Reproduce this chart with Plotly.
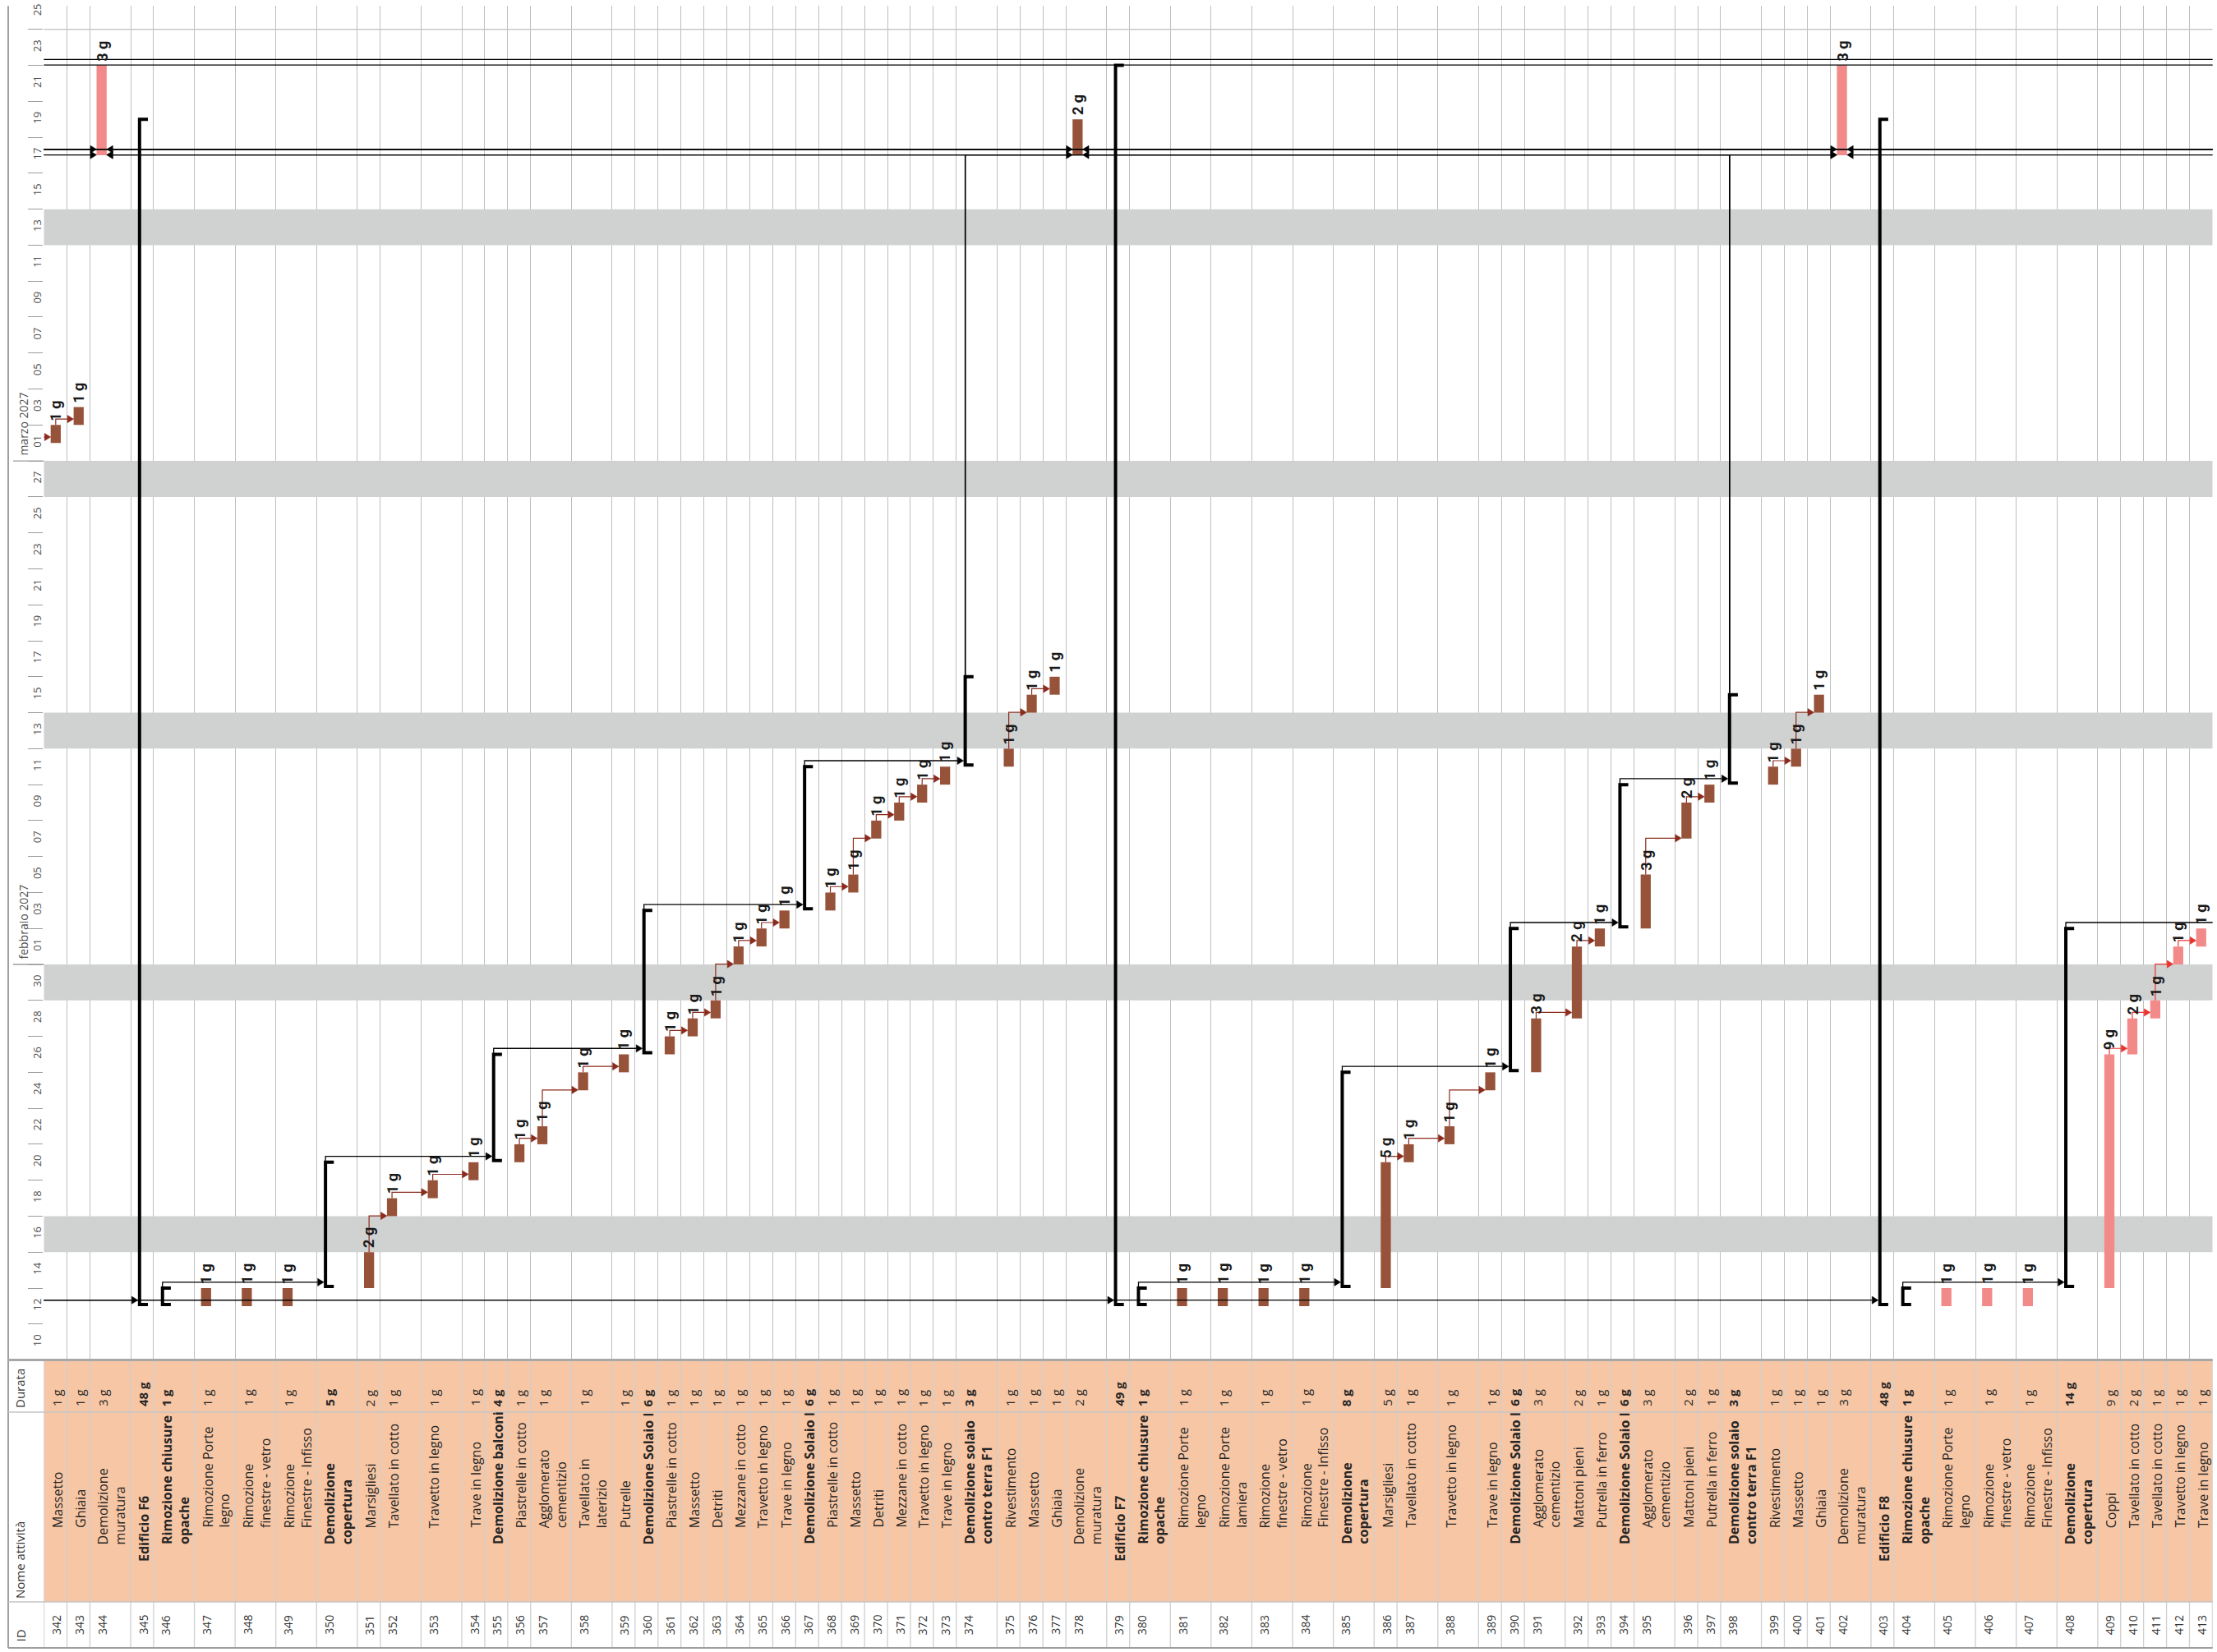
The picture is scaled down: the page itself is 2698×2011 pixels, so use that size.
import plotly.graph_objects as go
from datetime import date

# ===================== DATA =====================
task_ids = [342, 343, 344, 345, 346, 347, 348, 349, 350, 351, 352, 353, 354, 355, 356, 357, 358, 359,
            360, 361, 362, 363, 364, 365, 366, 367, 368, 369, 370, 371, 372, 373, 374, 375, 376, 377,
            378, 379, 380, 381, 382, 383, 384, 385, 386, 387, 388, 389, 390, 391, 392, 393, 394, 395,
            396, 397, 398, 399, 400, 401, 402, 403, 404, 405, 406, 407, 408, 409, 410, 411, 412, 413]

task_names = [
    "Massetto", "Ghiaia", "Demolizione<br>muratura", "Edificio F6", "Rimozione chiusure<br>opache",
    "Rimozione Porte<br>legno", "Rimozione<br>finestre - vetro", "Rimozione<br>Finestre - Infisso",
    "Demolizione<br>copertura", "Marsigliesi", "Tavellato in cotto", "Travetto in legno", "Trave in legno",
    "Demolizione balconi", "Piastrelle in cotto", "Agglomerato<br>cementizio", "Tavellato in<br>laterizio",
    "Putrelle", "Demolizione Solaio I", "Piastrelle in cotto", "Massetto", "Detriti", "Mezzane in cotto",
    "Travetto in legno", "Trave in legno", "Demolizione Solaio I", "Piastrelle in cotto", "Massetto",
    "Detriti", "Mezzane in cotto", "Travetto in legno", "Trave in legno",
    "Demolizione solaio<br>contro terra F1", "Rivestimento", "Massetto", "Ghiaia", "Demolizione<br>muratura",
    "Edificio F7", "Rimozione chiusure<br>opache", "Rimozione Porte<br>legno", "Rimozione Porte<br>lamiera",
    "Rimozione<br>finestre - vetro", "Rimozione<br>Finestre - Infisso", "Demolizione<br>copertura",
    "Marsigliesi", "Tavellato in cotto", "Travetto in legno", "Trave in legno", "Demolizione Solaio I",
    "Agglomerato<br>cementizio", "Mattoni pieni", "Putrella in ferro", "Demolizione Solaio I",
    "Agglomerato<br>cementizio", "Mattoni pieni", "Putrella in ferro", "Demolizione solaio<br>contro terra F1",
    "Rivestimento", "Massetto", "Ghiaia", "Demolizione<br>muratura", "Edificio F8",
    "Rimozione chiusure<br>opache", "Rimozione Porte<br>legno", "Rimozione<br>finestre - vetro",
    "Rimozione<br>Finestre - Infisso", "Demolizione<br>copertura", "Coppi", "Tavellato in cotto",
    "Tavellato in cotto", "Travetto in legno", "Trave in legno"]

durations_g = [1, 1, 3, 48, 1, 1, 1, 1, 5, 2, 1, 1, 1, 4, 1, 1, 1, 1,
               6, 1, 1, 1, 1, 1, 1, 6, 1, 1, 1, 1, 1, 1, 3, 1, 1, 1,
               2, 49, 1, 1, 1, 1, 1, 8, 5, 1, 1, 1, 6, 3, 2, 1, 6, 3,
               2, 1, 3, 1, 1, 1, 3, 48, 1, 1, 1, 1, 14, 9, 2, 1, 1, 1]

start_dates = [
    "2027-03-02", "2027-03-03", "2027-03-18", "2027-01-13", "2027-01-13", "2027-01-13", "2027-01-13",
    "2027-01-13", "2027-01-14", "2027-01-14", "2027-01-18", "2027-01-19", "2027-01-20", "2027-01-21",
    "2027-01-21", "2027-01-22", "2027-01-25", "2027-01-26", "2027-01-27", "2027-01-27", "2027-01-28",
    "2027-01-29", "2027-02-01", "2027-02-02", "2027-02-03", "2027-02-04", "2027-02-04", "2027-02-05",
    "2027-02-08", "2027-02-09", "2027-02-10", "2027-02-11", "2027-02-12", "2027-02-12", "2027-02-15",
    "2027-02-16", "2027-03-18", "2027-01-13", "2027-01-13", "2027-01-13", "2027-01-13", "2027-01-13",
    "2027-01-13", "2027-01-14", "2027-01-14", "2027-01-21", "2027-01-22", "2027-01-25", "2027-01-26",
    "2027-01-26", "2027-01-29", "2027-02-02", "2027-02-03", "2027-02-03", "2027-02-08", "2027-02-10",
    "2027-02-11", "2027-02-11", "2027-02-12", "2027-02-15", "2027-03-18", "2027-01-13", "2027-01-13",
    "2027-01-13", "2027-01-13", "2027-01-13", "2027-01-14", "2027-01-14", "2027-01-27", "2027-01-29",
    "2027-02-01", "2027-02-02"]

finish_dates = [
    "2027-03-02", "2027-03-03", "2027-03-22", "2027-03-19", "2027-01-13", "2027-01-13", "2027-01-13",
    "2027-01-13", "2027-01-20", "2027-01-15", "2027-01-18", "2027-01-19", "2027-01-20", "2027-01-26",
    "2027-01-21", "2027-01-22", "2027-01-25", "2027-01-26", "2027-02-03", "2027-01-27", "2027-01-28",
    "2027-01-29", "2027-02-01", "2027-02-02", "2027-02-03", "2027-02-11", "2027-02-04", "2027-02-05",
    "2027-02-08", "2027-02-09", "2027-02-10", "2027-02-11", "2027-02-16", "2027-02-12", "2027-02-15",
    "2027-02-16", "2027-03-19", "2027-03-22", "2027-01-13", "2027-01-13", "2027-01-13", "2027-01-13",
    "2027-01-13", "2027-01-25", "2027-01-20", "2027-01-21", "2027-01-22", "2027-01-25", "2027-02-02",
    "2027-01-28", "2027-02-01", "2027-02-02", "2027-02-10", "2027-02-05", "2027-02-09", "2027-02-10",
    "2027-02-15", "2027-02-11", "2027-02-12", "2027-02-15", "2027-03-22", "2027-03-19", "2027-01-13",
    "2027-01-13", "2027-01-13", "2027-01-13", "2027-02-02", "2027-01-26", "2027-01-28", "2027-01-29",
    "2027-02-01", "2027-02-02"]

# T = task, C = critical task, S = summary
task_kind = ["T", "T", "C", "S", "S", "T", "T", "T", "S", "T", "T", "T", "T", "S", "T", "T", "T", "T",
             "S", "T", "T", "T", "T", "T", "T", "S", "T", "T", "T", "T", "T", "T", "S", "T", "T", "T",
             "T", "S", "S", "T", "T", "T", "T", "S", "T", "T", "T", "T", "S", "T", "T", "T", "S", "T",
             "T", "T", "S", "T", "T", "T", "C", "S", "S", "C", "C", "C", "S", "C", "C", "C", "C", "C"]

outline_level = [3, 3, 2, 1, 2, 3, 3, 3, 2, 3, 3, 3, 3, 2, 3, 3, 3, 3,
                 2, 3, 3, 3, 3, 3, 3, 2, 3, 3, 3, 3, 3, 3, 2, 3, 3, 3,
                 2, 1, 2, 3, 3, 3, 3, 2, 3, 3, 3, 3, 2, 3, 3, 3, 2, 3,
                 3, 3, 2, 3, 3, 3, 2, 1, 2, 3, 3, 3, 2, 3, 3, 3, 3, 3]

# tasks outside the visible rows that are linked to visible ones
ext_ids = [336, 337, 338, 339, 340, 341, 414, 415, 416, 417, 418]
ext_start = ["2027-03-08", "2027-03-22", "2027-02-16", "2027-03-17", "2027-01-12", "2027-03-01",
             "2027-02-03", "2027-02-16", "2027-03-17", "2027-03-23", "2027-03-23"]
ext_finish = ["2027-03-11", "2027-03-22", "2027-02-16", "2027-03-17", "2027-01-12", "2027-03-01",
              "2027-02-03", "2027-02-16", "2027-03-17", "2027-03-23", "2027-03-23"]

task_links = [(341, 342), (342, 343), (351, 352), (352, 353), (353, 354), (356, 357), (357, 358),
              (358, 359), (361, 362), (362, 363), (363, 364), (364, 365), (365, 366), (368, 369),
              (369, 370), (370, 371), (371, 372), (372, 373), (375, 376), (376, 377), (386, 387),
              (387, 388), (388, 389), (391, 392), (392, 393), (395, 396), (396, 397), (399, 400),
              (400, 401)]
critical_links = [(409, 410), (410, 411), (411, 412), (412, 413)]
summary_links = [(346, 350), (350, 355), (355, 360), (360, 367), (367, 374), (374, 344), (374, 378),
                 (374, 402), (380, 385), (385, 390), (390, 394), (394, 398), (398, 344), (398, 378),
                 (398, 402), (404, 408), (408, 414), (340, 345), (340, 379), (340, 403), (338, 344),
                 (339, 344), (339, 378), (339, 402), (415, 402), (416, 344), (416, 378), (416, 402),
                 (337, 417), (336, 418)]

tick_labels = ["10", "12", "14", "16", "18", "20", "22", "24", "26", "28", "30",
               "01", "03", "05", "07", "09", "11", "13", "15", "17", "19", "21", "23", "25", "27",
               "01", "03", "05", "07", "09", "11", "13", "15", "17", "19", "21", "23", "25"]
tick_months = [1] * 11 + [2] * 14 + [3] * 13
month_labels = ["febbraio 2027", "marzo 2027"]
month_starts = ["2027-02-01", "2027-03-01"]
nonworking_bands = [("2027-01-16", "2027-01-17"), ("2027-01-30", "2027-01-31"),
                    ("2027-02-13", "2027-02-14"), ("2027-02-27", "2027-02-28"),
                    ("2027-03-13", "2027-03-14")]
top_line_date = "2027-03-25"
table_headers = ["Durata", "Nome attività", "ID"]

# ===================== LAYOUT / STYLE =====================
FIG_W, FIG_H = 2698, 2011
PLOT_L, PLOT_R = 53.3, 2692.7
CHART_T, CHART_B = 7.3, 1655.6
DUR_B, NAME_B, TABLE_B = 1719.0, 1950.0, 2006.0
OUTER_L = 10.0
T_MIN, T_MAX = 9.0, 84.3
WIDE = 1.776
row_lines = [1, 1, 2, 1, 2, 2, 2, 2, 2, 1, 2, 2, 1, 1, 1, 2, 2, 1,
             1, 1, 1, 1, 1, 1, 1, 1, 1, 1, 1, 1, 1, 1, 2, 1, 1, 1,
             2, 1, 2, 2, 2, 2, 2, 2, 1, 2, 2, 1, 1, 2, 1, 1, 1, 2,
             1, 1, 2, 1, 1, 1, 2, 1, 2, 2, 2, 2, 2, 1, 1, 1, 1, 1]
BAR_C, BAR_W = 0.51, 0.44
SUM_X, SUM_STUB = 0.387, 0.75
BROWN, PINK = "#97533A", "#F28A8A"
LINK_C, CRIT_C, SUM_C = "#8B2B1D", "#E8352D", "#000000"
GRID_C, BAND_C, PEACH = "#BEBEBE", "#D0D1D1", "#F7C6A5"
LEVEL_INDENT = {1: 47, 2: 68, 3: 88}


def dnum(s):
    y, m, d = map(int, s.split("-"))
    return (date(y, m, d) - date(2027, 1, 1)).days


def px(v):
    return v / FIG_W


def py(v):
    return 1 - v / FIG_H


col_left = {}
xcur = 0.0
for tid, nl in zip(task_ids, row_lines):
    col_left[tid] = xcur
    xcur += WIDE if nl == 2 else 1.0
TOTAL = xcur
boundaries = [col_left[t] for t in task_ids] + [TOTAL]
PXU = (PLOT_R - PLOT_L) / TOTAL
PXD = (CHART_B - CHART_T) / (T_MAX - T_MIN)

info = {}
for tid, k, s, f in zip(task_ids, task_kind, start_dates, finish_dates):
    info[tid] = (k, dnum(s), dnum(f) + 1)
for tid, s, f in zip(ext_ids, ext_start, ext_finish):
    info[tid] = ("X", dnum(s), dnum(f) + 1)

fig = go.Figure()
X0, X1 = -0.01, TOTAL + 0.01

# ---- nonworking bands (first bar trace: above grid, below task bars)
band_base = [dnum(a) for a, b in nonworking_bands]
band_len = [dnum(b) + 1 - dnum(a) for a, b in nonworking_bands]
fig.add_trace(go.Bar(x=[TOTAL / 2] * len(band_base), y=band_len, base=band_base, width=X1 - X0,
                     marker=dict(color=BAND_C, line=dict(width=0)), hoverinfo="skip", showlegend=False))

# ---- task bars
bx, bb, bl, bc = [], [], [], []
for tid in task_ids:
    k, t0, t1 = info[tid]
    if k == "S":
        continue
    bx.append(col_left[tid] + BAR_C)
    bb.append(t0)
    bl.append(t1 - t0)
    bc.append(PINK if k == "C" else BROWN)
fig.add_trace(go.Bar(x=bx, y=bl, base=bb, width=BAR_W, marker=dict(color=bc, line=dict(width=0)),
                     hoverinfo="skip", showlegend=False))

tl = dnum(top_line_date)
fig.add_trace(go.Scatter(x=[X0, X1], y=[tl, tl], mode="lines", line=dict(color="#C8C8C8", width=1.7),
                         hoverinfo="skip", showlegend=False))

# ---- summary bars
sx, sy = [], []
for tid in task_ids:
    k, t0, t1 = info[tid]
    if k != "S":
        continue
    xl = col_left[tid] + SUM_X
    xe = col_left[tid] + SUM_STUB
    y0 = t0 + 2.0 / PXD
    sx += [xe, xl, xl, xe, None]
    sy += [y0, y0, t1, t1, None]
fig.add_trace(go.Scatter(x=sx, y=sy, mode="lines", line=dict(color="#000", width=4),
                         hoverinfo="skip", showlegend=False))


# ---- links
def x_center(tid):
    if tid in col_left:
        return col_left[tid] + (SUM_X if info[tid][0] == "S" else BAR_C)
    return -1.5 if tid < task_ids[0] else TOTAL + 1.5


def x_edge(tid, from_left):
    if tid not in col_left:
        return x_center(tid)
    c = x_center(tid)
    half = 2.0 / PXU if info[tid][0] == "S" else BAR_W / 2
    return c - half if from_left else c + half


AL, AH = 7.5 / PXU, 4.6 / PXD


def add_links(pairs, color, width):
    lx, ly, ax, ay = [], [], [], []
    for p, s in pairs:
        xs = x_center(p)
        t1p = info[p][2]
        t0s = info[s][1]
        lev = max(t1p + 0.33, t0s + 0.02)
        from_left = xs < x_center(s)
        xe = x_edge(s, from_left)
        d = 1 if from_left else -1
        lx += [xs, xs, xe - d * AL, None]
        ly += [t1p, lev, lev, None]
        ax += [xe, xe - d * AL, xe - d * AL, xe, None]
        ay += [lev, lev + AH, lev - AH, lev, None]
    fig.add_trace(go.Scatter(x=lx, y=ly, mode="lines", line=dict(color=color, width=width),
                             hoverinfo="skip", showlegend=False))
    fig.add_trace(go.Scatter(x=ax, y=ay, mode="lines", fill="toself", fillcolor=color,
                             line=dict(color=color, width=0.5), hoverinfo="skip", showlegend=False))


add_links(summary_links, SUM_C, 1.3)
add_links(task_links, LINK_C, 1.2)
add_links(critical_links, CRIT_C, 1.2)

annotations = []
shapes = []

# ---- bar duration labels
for tid, dur in zip(task_ids, durations_g):
    k, t0, t1 = info[tid]
    if k == "S":
        continue
    annotations.append(dict(x=col_left[tid] + BAR_C, y=t1, xref="x", yref="y", text=f"<b>{dur} g</b>",
                            showarrow=False, textangle=-90, xanchor="center", yanchor="bottom", yshift=3,
                            font=dict(family="Roboto", size=18, color="#1a1a1a")))

# ---- timescale
tick_starts = []
for lab, m in zip(tick_labels, tick_months):
    tick_starts.append(dnum(f"2027-{m:02d}-{lab}"))
tick_centers = [t + 1 for t in tick_starts]
tick_bounds = tick_starts + [tick_starts[-1] + 2]
for lab, ms in zip(month_labels, month_starts):
    t = dnum(ms)
    shapes.append(dict(type="line", xref="paper", yref="y", x0=px(16), x1=px(PLOT_L), y0=t, y1=t,
                       line=dict(color="#9C9C9C", width=1.3)))
    annotations.append(dict(x=px(29), y=t, xref="paper", yref="y", text=lab, showarrow=False,
                            textangle=-90, xanchor="center", yanchor="bottom", yshift=4,
                            font=dict(family="Open Sans", size=14, color="#505050")))

# ---- outer border
shapes.append(dict(type="line", xref="paper", yref="paper", x0=px(OUTER_L), x1=px(OUTER_L),
                   y0=py(CHART_T), y1=py(TABLE_B), line=dict(color="#A0A0A0", width=2)))

# ---- table
shapes.append(dict(type="rect", xref="x", yref="paper", x0=0, x1=TOTAL, y0=py(NAME_B), y1=py(CHART_B),
                   fillcolor=PEACH, line=dict(width=0), layer="below"))
for b in boundaries:
    shapes.append(dict(type="line", xref="x", yref="paper", x0=b, x1=b, y0=py(CHART_B), y1=py(TABLE_B),
                       line=dict(color="#CFCFCF", width=1.3)))
for yy, c, w in [(CHART_B, "#A8A8A8", 3), (DUR_B, "#C4C4C4", 1.5), (NAME_B, "#C4C4C4", 1.5),
                 (TABLE_B, "#9E9E9E", 2)]:
    shapes.append(dict(type="line", xref="paper", yref="paper", x0=px(OUTER_L), x1=px(PLOT_R),
                       y0=py(yy), y1=py(yy), line=dict(color=c, width=w)))

hdr_y = [DUR_B - 3, NAME_B - 2, TABLE_B - 5]
for txt, yy in zip(table_headers, hdr_y):
    annotations.append(dict(x=px(24), y=py(yy), xref="paper", yref="paper", text=txt, showarrow=False,
                            textangle=-90, xanchor="center", yanchor="bottom",
                            font=dict(family="Open Sans", size=15, color="#333")))

PAD = 3.0 / PXU
for tid, name, dur, k, lev in zip(task_ids, task_names, durations_g, task_kind, outline_level):
    bold = k == "S"
    xl = col_left[tid] + PAD
    dtxt = f"<b>{dur} g</b>" if bold else f"{dur} g"
    ntxt = f"<b>{name}</b>" if bold else name
    annotations.append(dict(x=xl, y=py(DUR_B - 5), xref="x", yref="paper", text=dtxt, showarrow=False,
                            textangle=-90, xanchor="left", yanchor="bottom", align="left",
                            font=dict(family="Open Sans", size=15, color="#262626")))
    annotations.append(dict(x=xl, y=py(NAME_B - LEVEL_INDENT[lev]), xref="x", yref="paper", text=ntxt,
                            showarrow=False, textangle=-90, xanchor="left", yanchor="bottom",
                            align="left", font=dict(family="Open Sans", size=16, color="#262626")))
    annotations.append(dict(x=xl, y=py((NAME_B + TABLE_B) / 2), xref="x", yref="paper", text=str(tid),
                            showarrow=False, textangle=-90, xanchor="left", yanchor="middle",
                            font=dict(family="Open Sans", size=14, color="#333")))

fig.update_layout(
    width=FIG_W, height=FIG_H, margin=dict(l=0, r=0, t=0, b=0),
    paper_bgcolor="white", plot_bgcolor="white", showlegend=False, barmode="overlay",
    xaxis=dict(range=[X0, X1], domain=[px(PLOT_L), px(PLOT_R)], tickmode="array",
               tickvals=boundaries, showticklabels=False, ticks="", showgrid=True, gridcolor=GRID_C,
               gridwidth=1.3, zeroline=False, showline=False, automargin=False, fixedrange=True),
    yaxis=dict(range=[T_MIN, T_MAX], domain=[py(CHART_B), py(CHART_T)], tickmode="array",
               tickvals=tick_centers, ticktext=tick_labels, tickangle=-90, ticks="",
               tickfont=dict(family="Open Sans", size=13, color="#505050"), showgrid=False,
               zeroline=False, showline=False, automargin=False,
               minor=dict(tickmode="array", tickvals=tick_bounds, ticks="outside", ticklen=18,
                          tickcolor="#9C9C9C", tickwidth=1.3, showgrid=False)),
    annotations=annotations, shapes=shapes,
)

fig.write_html("out.html", config={"displayModeBar": False},
               post_script="document.body.style.margin='0px';document.body.style.padding='0px';"
                           "document.body.style.overflow='hidden';")
